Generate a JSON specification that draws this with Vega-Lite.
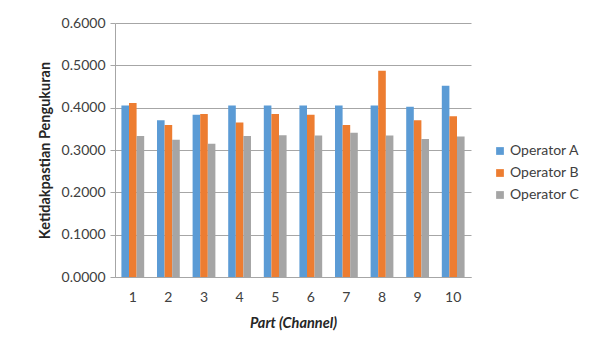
{
  "$schema": "https://vega.github.io/schema/vega-lite/v6.json",
  "width": 356,
  "height": 254,
  "autosize": {"type": "none"},
  "padding": {"left": 115, "top": 23, "right": 124, "bottom": 72},
  "background": "white",
  "config": {
    "font": "Lato",
    "view": {"stroke": null},
    "axis": {
      "labelFont": "Lato",
      "labelFontSize": 14,
      "labelColor": "#404040",
      "titleFont": "Lato",
      "titleColor": "#262626",
      "domainColor": "#a6a6a6",
      "gridColor": "#a6a6a6",
      "tickColor": "#a6a6a6"
    },
    "legend": {
      "labelFont": "Lato",
      "labelFontSize": 14,
      "labelColor": "#404040",
      "padding": 0
    }
  },
  "data": {
    "values": [
      {"part": 1, "operator": "Operator A", "value": 0.405},
      {"part": 1, "operator": "Operator B", "value": 0.411},
      {"part": 1, "operator": "Operator C", "value": 0.333},
      {"part": 2, "operator": "Operator A", "value": 0.370},
      {"part": 2, "operator": "Operator B", "value": 0.359},
      {"part": 2, "operator": "Operator C", "value": 0.324},
      {"part": 3, "operator": "Operator A", "value": 0.383},
      {"part": 3, "operator": "Operator B", "value": 0.385},
      {"part": 3, "operator": "Operator C", "value": 0.315},
      {"part": 4, "operator": "Operator A", "value": 0.405},
      {"part": 4, "operator": "Operator B", "value": 0.365},
      {"part": 4, "operator": "Operator C", "value": 0.333},
      {"part": 5, "operator": "Operator A", "value": 0.405},
      {"part": 5, "operator": "Operator B", "value": 0.385},
      {"part": 5, "operator": "Operator C", "value": 0.335},
      {"part": 6, "operator": "Operator A", "value": 0.405},
      {"part": 6, "operator": "Operator B", "value": 0.383},
      {"part": 6, "operator": "Operator C", "value": 0.334},
      {"part": 7, "operator": "Operator A", "value": 0.405},
      {"part": 7, "operator": "Operator B", "value": 0.359},
      {"part": 7, "operator": "Operator C", "value": 0.341},
      {"part": 8, "operator": "Operator A", "value": 0.405},
      {"part": 8, "operator": "Operator B", "value": 0.487},
      {"part": 8, "operator": "Operator C", "value": 0.334},
      {"part": 9, "operator": "Operator A", "value": 0.402},
      {"part": 9, "operator": "Operator B", "value": 0.370},
      {"part": 9, "operator": "Operator C", "value": 0.326},
      {"part": 10, "operator": "Operator A", "value": 0.452},
      {"part": 10, "operator": "Operator B", "value": 0.380},
      {"part": 10, "operator": "Operator C", "value": 0.332}
    ]
  },
  "mark": {"type": "bar"},
  "encoding": {
    "x": {
      "field": "part",
      "type": "ordinal",
      "scale": {"paddingInner": 0.36, "paddingOuter": 0.18},
      "axis": {
        "title": "Part (Channel)",
        "titleFontSize": 14.5,
        "titleFontWeight": "bold",
        "titleFontStyle": "italic",
        "titlePadding": 12,
        "labelAngle": 0,
        "ticks": false,
        "labelPadding": 13,
        "domainWidth": 1
      }
    },
    "xOffset": {"field": "operator", "type": "nominal"},
    "y": {
      "field": "value",
      "type": "quantitative",
      "scale": {"domain": [0, 0.6], "nice": false},
      "axis": {
        "title": "Ketidakpastian Pengukuran",
        "titleFontSize": 14.5,
        "titleFontWeight": "bold",
        "titlePadding": 9,
        "values": [0, 0.1, 0.2, 0.3, 0.4, 0.5, 0.6],
        "format": ".4f",
        "tickSize": 5,
        "labelPadding": 5,
        "grid": true
      }
    },
    "color": {
      "field": "operator",
      "type": "nominal",
      "scale": {
        "domain": ["Operator A", "Operator B", "Operator C"],
        "range": ["#5b9bd5", "#ed7d31", "#a5a5a5"]
      },
      "legend": {
        "title": null,
        "orient": "none",
        "legendX": 378,
        "legendY": 121,
        "symbolType": "square",
        "symbolSize": 60,
        "symbolStrokeWidth": 0,
        "rowPadding": 8,
        "labelOffset": 3
      }
    }
  }
}
